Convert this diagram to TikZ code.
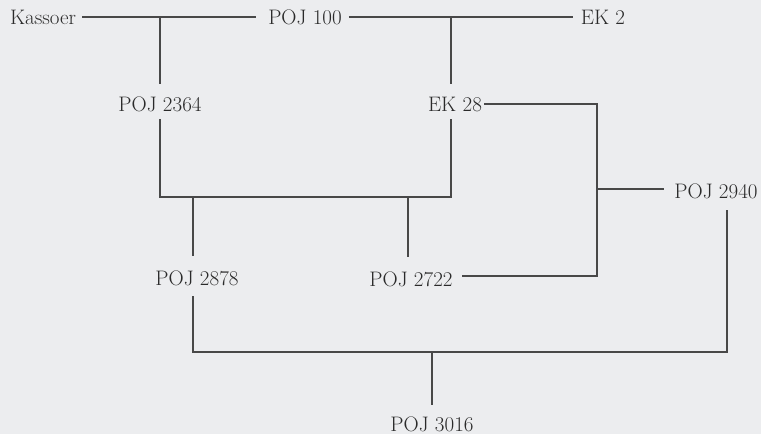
\documentclass[tikz,border=0pt]{standalone}
\usepackage{xcolor}
\definecolor{bgc}{HTML}{ECEDEF}
\definecolor{linec}{HTML}{484848}
\definecolor{textc}{HTML}{2A2A2A}
\begin{document}
\begin{tikzpicture}[x=1pt,y=-1pt,
  lbl/.style={inner sep=0pt, text height=14pt, text depth=0pt, text=textc,
    font=\fontsize{21}{24}\selectfont},
  conn/.style={draw=linec, line width=1.1pt}]
\fill[bgc] (0,0) rectangle (761,434);
\useasboundingbox (0,0) rectangle (761,434);
% nodes
\node[lbl] (kas) at (43,17) {Kassoer};
\node[lbl] (poj100) at (305,17) {POJ 100};
\node[lbl] (ek2) at (603,17) {EK 2};
\node[lbl] (poj2364) at (160,104) {POJ 2364};
\node[lbl] (ek28) at (455,104) {EK 28};
\node[lbl] (poj2878) at (197,278) {POJ 2878};
\node[lbl] (poj2722) at (411,279) {POJ 2722};
\node[lbl] (poj2940) at (716,191) {POJ 2940};
\node[lbl] (poj3016) at (432,424) {POJ 3016};
% junction coordinates
\coordinate (ja) at (160,17);
\coordinate (jb) at (451,17);
\coordinate (jc) at (160,197);
\coordinate (jd) at (451,197);
\coordinate (je) at (193,197);
\coordinate (jf) at (408,197);
\coordinate (jg) at (597,104);
\coordinate (jh) at (597,276);
\coordinate (ji) at (597,189);
\coordinate (jj) at (193,352);
\coordinate (jk) at (727,352);
\coordinate (jl) at (432,352);
% connectors
\draw[conn] ([xshift=6pt]kas.east) -- ([xshift=-12pt]poj100.west);
\draw[conn] ([xshift=7pt]poj100.east) -- ([xshift=-8pt]ek2.west);
\draw[conn] (ja) -- ([yshift=13pt]poj2364.north -| ja);
\draw[conn] (jb) -- ([yshift=13pt]ek28.north -| jb);
\draw[conn] ([yshift=-8pt]poj2364.south -| jc) -- (jc) -- (jd) -- ([yshift=-8pt]ek28.south -| jd);
\draw[conn] (je) -- ([yshift=15pt]poj2878.north -| je);
\draw[conn] (jf) -- ([yshift=15pt]poj2722.north -| jf);
\draw[conn] ([xshift=2pt]ek28.east) -- (jg) -- (jh) -- ([xshift=9pt]poj2722.east |- jh);
\draw[conn] (ji) -- ([xshift=-10pt]poj2940.west |- ji);
\draw[conn] ([yshift=-11pt]poj2878.south -| jj) -- (jj) -- (jk) -- ([yshift=-12pt]poj2940.south -| jk);
\draw[conn] (jl) -- ([yshift=12pt]poj3016.north -| jl);
\end{tikzpicture}
\end{document}
